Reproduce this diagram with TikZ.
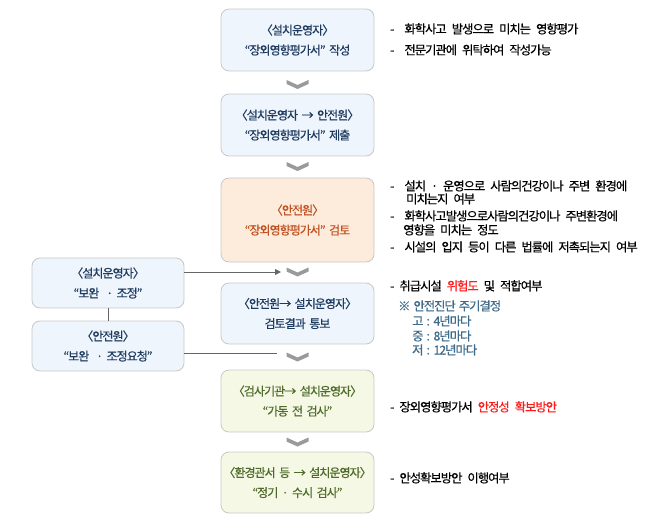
\documentclass[tikz,border=0pt]{standalone}
\usepackage{fontspec}
\setmainfont[FakeBold=0.5]{Noto Sans CJK KR}
\usetikzlibrary{arrows.meta}
\definecolor{boxline}{HTML}{C8C8C8}
\definecolor{bluefill}{HTML}{EEF5FC}
\definecolor{bluetext}{HTML}{1F3A5F}
\definecolor{orfill}{HTML}{FDEBDC}
\definecolor{ortext}{HTML}{C0501F}
\definecolor{grfill}{HTML}{F5F8E5}
\definecolor{grtext}{HTML}{4E6B2A}
\definecolor{chevcol}{HTML}{9A9A9A}
\definecolor{notecol}{HTML}{3F6A8A}
\definecolor{linecol}{HTML}{666666}
\definecolor{redtext}{HTML}{FF1A1A}
\newcommand{\lbr}{\kern-0.5em〈}
\newcommand{\rbr}{〉\kern-0.5em}
\newcommand{\boxfont}{\fontsize{12}{20}\selectfont\addfontfeatures{LetterSpace=-8}\setlength{\spaceskip}{3.5pt}}
\newcommand{\rtfont}{\fontsize{12.3}{14}\selectfont\addfontfeatures{LetterSpace=-8}\setlength{\spaceskip}{5pt}}
\newcommand{\ntfont}{\fontsize{12.3}{14}\selectfont\addfontfeatures{LetterSpace=-8}\setlength{\spaceskip}{3pt}}
\begin{document}
\begin{tikzpicture}[x=1pt,y=-1pt,
  box/.style={draw=boxline, rounded corners=8pt, line width=0.8pt,
    minimum width=153pt, align=center, inner sep=0pt, font=\boxfont},
  bluebox/.style={box, fill=bluefill, text=bluetext},
  orbox/.style={box, fill=orfill, text=ortext},
  grbox/.style={box, fill=grfill, text=grtext},
  rt/.style={anchor=base west, inner sep=0pt, font=\rtfont, text=black},
  nt/.style={anchor=base west, inner sep=0pt, font=\ntfont, text=notecol},
  chev/.pic={\fill[chevcol] (-11,-4.5) -- (0,0.5) -- (11,-4.5) -- (11,-0.5) -- (0,4.5) -- (-11,-0.5) -- cycle;},
  conn/.style={draw=linecol, line width=0.8pt}
]
\useasboundingbox (0,0) rectangle (652,526);

% main column
\node[bluebox, minimum height=62pt] (b1) at (297.5,40) {\lbr 설치운영자\rbr\\“장외영향평가서” 작성};
\node[bluebox, minimum height=62pt] (b2) at (297.5,125) {\lbr 설치운영자 → 안전원\rbr\\“장외영향평가서” 제출};
\node[orbox, minimum height=84pt] (b3) at (297.5,220) {\lbr 안전원\rbr\\“장외영향평가서” 검토};
\node[bluebox, minimum height=61pt] (b4) at (297.5,313.5) {\lbr 안전원→ 설치운영자\rbr\\검토결과 통보};
\node[grbox, minimum height=62pt] (b5) at (297.5,401) {\lbr 검사기관→ 설치운영자\rbr\\“가동 전 검사”};
\node[grbox, minimum height=61pt] (b6) at (297.5,482.5) {\lbr 환경관서 등 → 설치운영자\rbr\\“정기 · 수시 검사”};

% chevrons
\pic at (297.5,84.5) {chev};
\pic at (297.5,166.5) {chev};
\pic at (297.5,272) {chev};
\pic at (297.5,357) {chev};
\pic at (297.5,442) {chev};

% left boxes
\node[bluebox, minimum width=152pt, minimum height=50pt] (l1) at (108,283) {\lbr 설치운영자\rbr\\“보완 \ · 조정”};
\node[bluebox, minimum width=152pt, minimum height=50pt] (l2) at (108,346) {\lbr 안전원\rbr\\“보완 \ · 조정요청”};
\draw[conn] (l1.south) -- (l2.north);
\coordinate (a1) at (281,272);
\coordinate (a2) at (277,353);
\draw[conn, -{Triangle[length=6pt,width=6pt]}] (l1.east |- a1) -- (a1);
\draw[conn] (l2.east |- a2) -- (a2);

% right texts
\node[rt] (t1) at (390,33.5) {-\ \ 화학사고 발생으로 미치는 영향평가};
\node[rt] (t2) at (390,54.5) {-\ \ 전문기관에 위탁하여 작성가능};

\node[rt] (t3) at (390,190.5) {-\ \ 설치 · 운영으로 사람의건강이나 주변 환경에};
\node[rt] (t3b) at (406,203.5) {미치는지 여부};
\node[rt] (t4) at (390,220.5) {-\ \ 화학사고발생으로사람의건강이나 주변환경에};
\node[rt] (t4b) at (403,234.5) {영향을 미치는 정도};
\node[rt] (t5) at (390,251.5) {-\ \ 시설의 입지 등이 다른 법률에 저촉되는지 여부};

\node[rt] (t6) at (390,290.5) {- 취급시설 {\color{redtext}위험도} 및 적합여부};
\node[nt] (n1) at (398,310.5) {※ 안전진단 주기결정};
\node[nt] (n2) at (412,325.5) {고 : 4년마다};
\node[nt] (n3) at (412,340.5) {중 : 8년마다};
\node[nt] (n4) at (412,354.5) {저 : 12년마다};

\node[rt] (t7) at (390,411.5) {- 장외영향평가서 {\color{redtext}안정성 확보방안}};
\node[rt] (t8) at (390,482.5) {- 안성확보방안 이행여부};
\end{tikzpicture}
\end{document}
